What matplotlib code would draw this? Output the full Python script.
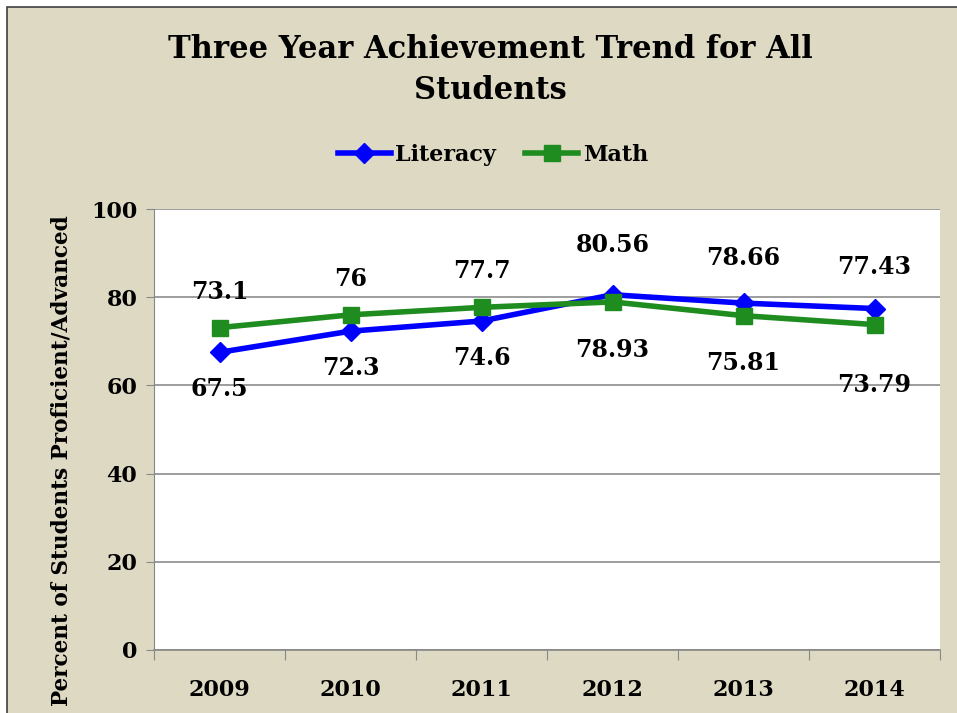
import matplotlib.pyplot as plt
from matplotlib.patches import Rectangle

years = ['2009', '2010', '2011', '2012', '2013', '2014']
literacy = [67.5, 72.3, 74.6, 80.56, 78.66, 77.43]
math_scores = [73.1, 76, 77.7, 78.93, 75.81, 73.79]
literacy_labels = ['67.5', '72.3', '74.6', '80.56', '78.66', '77.43']
math_labels = ['73.1', '76', '77.7', '78.93', '75.81', '73.79']

plt.rcParams['font.family'] = 'DejaVu Serif'
plt.rcParams['font.weight'] = 'bold'

bg = '#DDD9C3'
blue = '#0000FF'
green = '#1E8C1E'

fig = plt.figure(figsize=(9.57, 7.13), dpi=100, facecolor='white')
fig.patches.append(Rectangle((7 / 957, -0.01), 1.02, 1 - 7 / 713 + 0.01,
                             transform=fig.transFigure, facecolor=bg,
                             edgecolor='#404040', linewidth=1.2, zorder=-1))

ax = fig.add_axes([154 / 957, 1 - 650 / 713, (940 - 154) / 957, (650 - 209) / 713])
ax.set_facecolor('white')

x = list(range(len(years)))
ax.plot(x, literacy, color=blue, marker='D', markersize=10, linewidth=4,
        label='Literacy', zorder=3)
ax.plot(x, math_scores, color=green, marker='s', markersize=12, linewidth=4,
        label='Math', zorder=3)

# label offsets in pixels (positive = above)
lit_off = [-37, -37, -37, 50, 45, 42]
math_off = [36, 36, 36, -48, -47, -60]
for i in x:
    ax.annotate(literacy_labels[i], (i, literacy[i]), xytext=(0, lit_off[i] * 0.72),
                textcoords='offset points', ha='center', va='center',
                fontsize=17, fontweight='bold', color='black')
    ax.annotate(math_labels[i], (i, math_scores[i]), xytext=(0, math_off[i] * 0.72),
                textcoords='offset points', ha='center', va='center',
                fontsize=17, fontweight='bold', color='black')

ax.set_xlim(-0.5, 5.5)
ax.set_ylim(0, 100)
ax.set_yticks(range(0, 101, 20))
ax.set_xticks([i + 0.5 for i in range(-1, 6)], minor=False)
ax.set_xticklabels([])
ax.set_xticks(x, minor=True)
ax.set_xticklabels(years, minor=True, fontsize=16, fontweight='bold')
ax.tick_params(axis='x', which='major', length=7, color='#888888', direction='out')
ax.tick_params(axis='x', which='minor', length=0, pad=21)
ax.tick_params(axis='y', length=6, color='#888888', labelsize=16, pad=6)
for lab in ax.get_yticklabels():
    lab.set_fontweight('bold')

ax.grid(axis='y', color='#8C8C8C', linewidth=1.2)
ax.set_axisbelow(True)
for s in ['top', 'right']:
    ax.spines[s].set_visible(False)
ax.spines['left'].set_color('#888888')
ax.spines['bottom'].set_color('#888888')
ax.spines['bottom'].set_linewidth(1.2)

fig.text(62 / 957, 1 - 461 / 713, 'Percent of Students Proficient/Advanced',
         rotation=90, ha='center', va='center', fontsize=15.6, fontweight='bold')

fig.text(0.512, 1 - 70 / 713, 'Three Year Achievement Trend for All\nStudents',
         ha='center', va='center', fontsize=22, fontweight='bold',
         linespacing=1.45)

fig.legend(loc='center', bbox_to_anchor=(0.515, 1 - 155 / 713), ncol=2,
           frameon=False, handlelength=2.4, handletextpad=0.2,
           columnspacing=1.3, prop={'weight': 'bold', 'size': 16})

fig.savefig('out.png', dpi=100, facecolor=fig.get_facecolor())
